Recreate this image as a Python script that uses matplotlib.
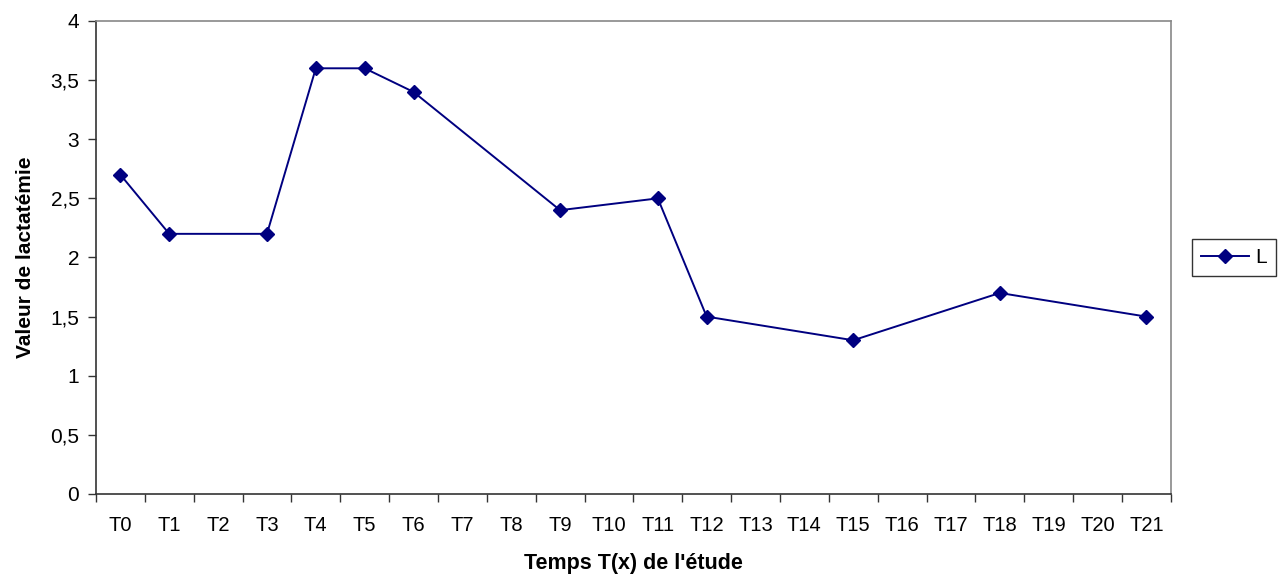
import numpy as np
import matplotlib
matplotlib.use("Agg")
import matplotlib.pyplot as plt

categories = ["T%d" % i for i in range(22)]
# lactatemia values; None where no measurement
values = [2.7, 2.2, None, 2.2, 3.6, 3.6, 3.4, None, None, 2.4, None, 2.5,
          1.5, None, None, 1.3, None, None, 1.7, None, None, 1.5]
y_ticks = [0, 0.5, 1, 1.5, 2, 2.5, 3, 3.5, 4]
y_labels = ["0", "0,5", "1", "1,5", "2", "2,5", "3", "3,5", "4"]

plt.rcParams['font.family'] = ['Liberation Sans', 'DejaVu Sans']

fig = plt.figure(figsize=(12.88, 5.8), dpi=100)
ax = fig.add_axes([0.0745, 0.1483, 0.8345, 0.8155])

x = np.array([i for i, v in enumerate(values) if v is not None])
y = np.array([v for v in values if v is not None])
ax.plot(x, y, color='#000080', lw=1.4, marker='D', markersize=7.5,
        markerfacecolor='#000080', markeredgecolor='#000080', label='L')

ax.set_xlim(-0.5, len(categories) - 0.5)
ax.set_ylim(0, 4)

# ticks at category boundaries, labels centered
ax.set_xticks(np.arange(-0.5, len(categories)), labels=[''] * (len(categories) + 1))
ax.set_xticks(np.arange(len(categories)), labels=categories, minor=True)
ax.tick_params(axis='x', which='major', direction='out', length=6, width=1, color='#333333')
ax.tick_params(axis='x', which='minor', length=0, pad=16, labelsize=14.5)
ax.set_yticks(y_ticks, labels=y_labels)
ax.tick_params(axis='y', direction='out', length=6, width=1, color='#333333', labelsize=15, pad=6)

ax.spines['left'].set_color('#333333')
ax.spines['bottom'].set_color('#333333')
ax.spines['top'].set_color('#888888')
ax.spines['right'].set_color('#888888')
for s in ax.spines.values():
    s.set_linewidth(1.2)

ax.set_xlabel("Temps T(x) de l'étude", fontsize=15.5, fontweight='bold', labelpad=13)
ax.set_ylabel("Valeur de lactatémie", fontsize=15, fontweight='bold', labelpad=11)

leg = ax.legend(loc='center left', bbox_to_anchor=(1.01, 0.5), fontsize=15,
                frameon=True, fancybox=False, edgecolor='black', handlelength=2.3,
                borderpad=0.45, handletextpad=0.3)
leg.get_frame().set_linewidth(1)

fig.savefig("out.png", dpi=100)
